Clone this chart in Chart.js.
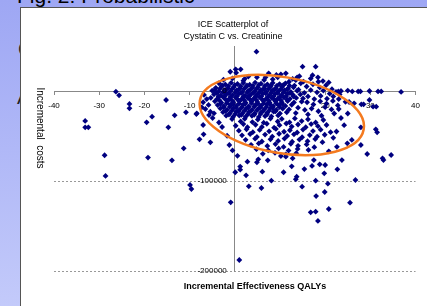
<!DOCTYPE html>
<html>
<head>
<meta charset="utf-8">
<script src="https://cdn.jsdelivr.net/npm/chart.js@4.4.1/dist/chart.umd.min.js"></script>
<style>
  html, body { margin: 0; padding: 0; }
  body {
    width: 427px; height: 306px; overflow: hidden; position: relative;
    background: linear-gradient(#9ea7f4, #c3cafa);
    font-family: 'Liberation Sans', Arial, sans-serif;
  }
  #slideTitle { position: absolute; left: 17px; top: -16px; font-size: 21px; color: #000; white-space: nowrap; }
  .peek { position: absolute; font-size: 20px; color: #222; }
  #panel {
    position: absolute; left: 20px; top: 7px; width: 407px; height: 299px;
    background: #fff; border-left: 1px solid #555; border-top: 1px solid #555;
  }
  #chartBox { position: absolute; left: 0; top: 0; width: 406px; height: 298px; }
</style>
</head>
<body>
<div id="slideTitle">Fig. 2: Probabilistic</div>
<div class="peek" style="left:18px; top:38px;">C</div>
<div class="peek" style="left:17px; top:86px;">A</div>
<div id="panel">
  <div id="chartBox"><canvas id="iceChart"></canvas></div>
</div>
<script>
const xTicks = [-40, -30, -20, -10, 0, 10, 20, 30, 40];
const yTicks = [-200000, -100000, 0];
const chartTitle = ['ICE Scatterplot of', 'Cystatin C vs. Creatinine'];
const xTitle = 'Incremental Effectiveness QALYs';
const yTitle = 'Incremental  costs';

// simulations as [QALYs, costs]
const leftTail = [
  [-26.3, -0.8e3], [-25.6, -4.8e3], [-23.3, -14.4e3], [-23.3, -19.3e3], [-33.1, -33.3e3],
  [-33.1, -40.4e3], [-32.4, -40.4e3], [-28.8, -71.4e3], [-28.6, -94.4e3], [-19.5, -34.8e3],
  [-18.3, -28.5e3], [-15.2, -10e3], [-14.7, -40.4e3], [-13.3, -27e3], [-10.8, -23.7e3],
  [-19.2, -74e3], [-13.9, -77e3], [-11.3, -63.7e3], [-9.9, -104.4e3], [-9.6, -108.9e3]
];

const leftLobe = [
  [-6.8, -4.4e3], [-6.2, -9e3], [-7.0, -12.5e3], [-5.8, -15.5e3], [-6.5, -20e3],
  [-7.3, -18.1e3], [-5.4, -23e3], [-4.6, -24.8e3], [-8.4, -24.8e3], [-5.7, -26.7e3],
  [-8.5, -25.6e3], [-4.9, -30e3], [-3.5, -35e3], [-2.8, -40e3], [-7.0, -37.8e3],
  [-7.8, -53.7e3], [-6.9, -48.1e3], [-5.4, -57e3], [-1.7, -49.7e3], [-1.2, -60e3],
  [-0.5, -66e3], [0.6, -72e3], [-4.4, 1.5e3], [-2.5, -1e3]
];

const aboveAxis = [
  [-1.0, 21.4e3], [0.2, 24.1e3], [0.3, 20.3e3], [1.3, 24.1e3], [4.8, 43.7e3],
  [7.5, 19.6e3], [10.2, 18.5e3], [11.3, 19.6e3], [4.9, 15.2e3], [6.5, 12.2e3],
  [8.4, 13e3], [9.5, 15.2e3], [15.0, 27e3], [17.9, 27e3], [18.4, 15.2e3],
  [18.5, 10.3e3], [13.8, 15.2e3], [12.0, 10.3e3], [-2.5, 12.5e3], [-0.5, 14e3],
  [1.9, 11.4e3], [3.0, 16e3], [2.2, 13.5e3], [6.8, 15.2e3], [9.2, 17.8e3],
  [13.5, 12e3], [15.2, 10.5e3], [16.8, 13.8e3], [19.5, 11e3], [14.3, 16.5e3],
  [17.2, 17.5e3], [20.8, 9.5e3], [12.8, 13.5e3]
];

const denseCore = [
  [-3.5, 8.6e3], [-2.1, 7.2e3], [-0.8, 9.1e3], [0.6, 7.8e3], [1.9, 8.9e3], [3.3, 7.0e3],
  [4.5, 9.4e3], [5.8, 8.1e3], [7.2, 7.4e3], [8.4, 9.0e3], [9.9, 7.7e3], [11.2, 8.5e3],
  [-2.8, 6.3e3], [-1.4, 5.6e3], [0.0, 6.6e3], [1.3, 5.4e3], [2.7, 6.1e3], [4.0, 5.7e3],
  [5.3, 6.8e3], [6.6, 5.5e3], [8.0, 6.2e3], [9.3, 5.8e3], [10.7, 6.5e3], [12.1, 5.9e3],
  [-4.2, 3.5e3], [-2.9, 4.8e3], [-1.5, 3.1e3], [-0.2, 4.4e3], [1.2, 2.9e3], [2.6, 4.9e3],
  [3.9, 3.6e3], [5.1, 4.2e3], [6.6, 2.8e3], [7.9, 4.6e3], [9.1, 3.3e3], [10.5, 4.7e3],
  [11.8, 3.0e3], [13.0, 4.1e3],
  [-3.3, 2.4e3], [-1.9, 1.6e3], [-0.6, 2.2e3], [0.8, 1.4e3], [2.1, 2.6e3], [3.5, 1.8e3],
  [4.8, 2.3e3], [6.1, 1.5e3], [7.5, 2.5e3], [8.8, 1.7e3], [10.2, 2.1e3], [11.6, 1.9e3],
  [-5.0, 0.4e3], [-3.6, -0.8e3], [-2.3, 0.9e3], [-1.0, -0.5e3], [0.4, 0.7e3], [1.7, -1.1e3],
  [3.0, 0.2e3], [4.4, -0.6e3], [5.7, 1.0e3], [7.0, -0.9e3], [8.3, 0.5e3], [9.6, -0.3e3],
  [11.0, 0.8e3], [12.4, -1.0e3], [13.8, 0.3e3],
  [-4.0, -2.2e3], [-2.6, -1.6e3], [-1.3, -2.5e3], [0.1, -1.8e3], [1.4, -2.4e3], [2.8, -1.5e3],
  [4.1, -2.1e3], [5.4, -1.7e3], [6.8, -2.6e3], [8.1, -1.9e3], [9.5, -2.3e3], [10.8, -1.6e3],
  [12.2, -2.2e3],
  [-4.6, -3.6e3], [-3.1, -4.9e3], [-1.8, -3.2e3], [-0.5, -4.5e3], [0.9, -3.0e3], [2.3, -5.0e3],
  [3.6, -3.7e3], [4.9, -4.3e3], [6.2, -2.9e3], [7.6, -4.8e3], [8.9, -3.4e3], [10.3, -4.6e3],
  [11.6, -3.1e3], [12.9, -4.4e3], [14.5, -3.8e3],
  [-3.6, -6.2e3], [-2.2, -5.6e3], [-0.9, -6.5e3], [0.5, -5.8e3], [1.9, -6.4e3], [3.2, -5.5e3],
  [4.6, -6.1e3], [5.9, -5.7e3], [7.3, -6.6e3], [8.6, -5.9e3], [10.0, -6.3e3], [11.4, -5.6e3],
  [13.0, -6.0e3],
  [-5.3, -7.6e3], [-3.9, -8.8e3], [-2.5, -7.1e3], [-1.2, -8.5e3], [0.2, -7.3e3], [1.5, -9.0e3],
  [2.9, -7.8e3], [4.2, -8.4e3], [5.5, -6.9e3], [6.9, -8.9e3], [8.2, -7.5e3], [9.5, -8.6e3],
  [10.9, -7.2e3], [12.2, -8.7e3], [13.6, -7.7e3], [15.1, -8.3e3],
  [-3.4, -10.2e3], [-2.0, -9.6e3], [-0.6, -10.5e3], [0.7, -9.8e3], [2.1, -10.4e3], [3.4, -9.5e3],
  [4.8, -10.1e3], [6.1, -9.7e3], [7.5, -10.6e3], [8.8, -9.9e3], [10.2, -10.3e3], [11.6, -9.6e3],
  [-4.4, -11.5e3], [-3.0, -12.8e3], [-1.6, -11.1e3], [-0.3, -12.6e3], [1.0, -11.4e3], [2.4, -13.0e3],
  [3.7, -11.7e3], [5.0, -12.3e3], [6.4, -10.9e3], [7.7, -12.9e3], [9.0, -11.6e3], [10.4, -12.5e3],
  [11.7, -11.2e3], [13.1, -12.7e3], [14.8, -11.9e3],
  [-3.1, -14.2e3], [-1.8, -13.6e3], [-0.4, -14.5e3], [1.0, -13.8e3], [2.3, -14.4e3], [3.7, -13.5e3],
  [5.1, -14.1e3], [6.4, -13.7e3], [7.8, -14.6e3], [9.2, -13.9e3], [10.5, -14.3e3],
  [-3.8, -15.6e3], [-2.4, -16.9e3], [-1.0, -15.2e3], [0.4, -16.5e3], [1.8, -15.4e3], [3.1, -17.0e3],
  [4.5, -15.8e3], [5.8, -16.3e3], [7.1, -15.0e3], [8.5, -16.8e3], [9.8, -15.5e3], [11.2, -16.6e3],
  [12.6, -15.3e3],
  [-2.5, -18.2e3], [-1.1, -17.6e3], [0.3, -18.5e3], [1.6, -17.8e3], [3.0, -18.4e3], [4.3, -17.5e3],
  [5.7, -18.1e3], [7.0, -17.7e3], [8.4, -18.6e3], [9.9, -17.9e3],
  [-3.2, -19.4e3], [-1.7, -20.8e3], [-0.3, -19.1e3], [1.1, -20.6e3], [2.5, -19.5e3], [3.8, -21.0e3],
  [5.2, -19.7e3], [6.5, -20.4e3], [7.9, -19.0e3], [9.2, -20.9e3], [10.6, -19.6e3], [12.0, -20.5e3],
  [-2.0, -22.2e3], [-0.6, -21.6e3], [0.8, -22.5e3], [2.2, -21.8e3], [3.5, -22.4e3], [4.9, -21.5e3],
  [6.3, -22.1e3], [7.6, -21.7e3], [9.0, -22.6e3],
  [-2.6, -23.5e3], [-1.1, -24.7e3], [0.3, -23.2e3], [1.7, -24.6e3], [3.1, -23.4e3], [4.4, -25.0e3],
  [5.8, -23.8e3], [7.2, -24.3e3], [8.6, -23.0e3], [10.0, -24.9e3], [11.5, -23.6e3],
  [-1.3, -26.2e3], [0.1, -25.6e3], [1.5, -26.5e3], [2.9, -25.8e3], [4.3, -26.4e3], [5.7, -25.5e3],
  [7.1, -26.1e3],
  [-1.9, -27.4e3], [-0.4, -28.8e3], [1.0, -27.2e3], [2.4, -28.5e3], [3.8, -27.6e3], [5.3, -29.0e3],
  [6.7, -27.8e3], [8.1, -28.3e3], [9.6, -27.1e3]
];

const rightSpread = [
  [13.2, 6e3], [14.6, 8.5e3], [15.9, 5e3], [17.3, 7.5e3], [18.8, 4e3], [20.2, 6.5e3],
  [21.5, 2e3], [14.1, 1.5e3], [15.4, -2e3], [16.8, 1e3], [18.2, -1.5e3], [19.6, 0.5e3],
  [21.0, -3e3], [22.4, -1e3], [16.2, -6e3], [17.6, -9e3], [19.0, -5.5e3], [20.4, -8.5e3],
  [21.8, -6e3], [23.2, -4e3], [16.0, -12.5e3], [17.4, -15e3], [18.9, -11.5e3], [20.3, -14e3],
  [21.7, -11e3], [23.0, -9e3], [14.0, -18.5e3], [15.5, -21e3], [17.0, -19.5e3], [18.5, -22.5e3],
  [20.0, -18e3], [21.4, -20.5e3], [22.8, -16e3], [24.5, -12e3], [13.5, -24.5e3], [16.2, -26e3],
  [19.2, -27.5e3], [22.0, -25e3],
  [22.9, -0.5e3], [23.5, 0], [25.0, 0.5e3], [26.0, -0.5e3], [27.3, -0.5e3], [27.8, -0.5e3],
  [29.8, 0], [31.7, -0.5e3], [32.4, -0.5e3], [36.8, -1e3],
  [25.3, -12.2e3], [26.4, -13.7e3], [28.0, -14.8e3], [28.5, -14.8e3], [30.6, -17.4e3], [31.3, -17.4e3],
  [29.8, -10e3], [31.2, -42.6e3], [31.5, -45.9e3], [27.9, -40.4e3], [27.9, -60e3], [25.9, -54.4e3],
  [24.9, -58.1e3], [23.5, -30e3], [24.2, -38e3], [22.5, -45e3], [23.0, -20e3], [25.0, -25e3],
  [21.8, -52e3], [22.6, -62e3], [20.8, -67e3]
];

const lowerSpread = [
  [-0.6, -31.2e3], [1.3, -33.8e3], [2.2, -30.9e3], [3.9, -34.5e3], [5.1, -31.7e3], [6.4, -35.2e3],
  [7.9, -30.6e3], [9.5, -33.9e3], [10.4, -31.0e3], [12.1, -34.8e3], [13.3, -30.5e3], [14.8, -33.4e3],
  [16.2, -31.5e3], [17.9, -35.0e3], [19.6, -32.2e3],
  [0.2, -38.6e3], [1.9, -36.8e3], [2.8, -40.2e3], [4.6, -37.5e3], [6.0, -39.9e3], [7.1, -36.4e3],
  [8.7, -40.8e3], [9.9, -38.0e3], [11.4, -36.1e3], [12.6, -39.5e3], [14.0, -37.2e3], [15.7, -40.3e3],
  [16.9, -36.7e3], [18.4, -39.1e3], [20.3, -37.8e3],
  [0.9, -44.1e3], [2.6, -42.5e3], [4.0, -45.7e3], [5.5, -43.2e3], [7.6, -44.8e3], [9.1, -42.1e3],
  [10.9, -45.3e3], [12.2, -43.6e3], [13.8, -46.1e3], [15.1, -42.9e3], [17.3, -44.5e3], [19.0, -43.0e3],
  [21.2, -45.8e3],
  [1.6, -49.2e3], [3.4, -47.8e3], [4.9, -51.0e3], [6.7, -48.4e3], [8.3, -50.6e3], [9.8, -47.5e3],
  [11.6, -49.9e3], [13.1, -48.1e3], [14.9, -51.4e3], [16.6, -49.0e3], [18.2, -50.8e3], [19.9, -48.6e3],
  [2.4, -54.3e3], [4.5, -53.0e3], [6.0, -56.1e3], [7.9, -53.7e3], [9.6, -55.5e3], [11.0, -52.9e3],
  [12.7, -56.4e3], [14.3, -54.0e3], [16.1, -55.8e3], [17.8, -53.4e3], [19.4, -56.9e3],
  [3.6, -59.8e3], [5.3, -58.2e3], [7.2, -61.0e3], [9.0, -59.0e3], [10.8, -62.1e3], [12.4, -58.7e3],
  [14.0, -60.9e3], [15.9, -59.4e3], [17.6, -62.4e3],
  [4.8, -64.6e3], [7.4, -65.9e3], [9.7, -63.8e3], [11.9, -66.2e3], [13.9, -64.4e3], [16.3, -65.5e3],
  [6.2, -69.8e3], [8.9, -68.7e3], [11.3, -70.4e3], [13.6, -69.1e3]
];

const farLow = [
  [2.8, -78.5e3], [5.2, -75.9e3], [7.3, -77e3], [1.2, -84e3], [10.2, -72.2e3], [11.3, -73e3],
  [12.8, -74.8e3], [-0.9, -123.7e3], [0.1, -90.3e3], [1.2, -87.4e3], [1.0, -187.8e3], [2.5, -93.7e3],
  [3.1, -105.9e3], [4.9, -79.3e3], [6.1, -89.6e3], [5.9, -107.8e3], [8.1, -99.6e3], [10.8, -90.3e3],
  [12.6, -83.7e3], [13.5, -98.1e3], [13.7, -95.2e3], [14.9, -106.3e3], [15.4, -86.7e3], [17.1, -83.3e3],
  [17.5, -76.7e3], [18.8, -81.5e3], [17.9, -99.6e3], [18.0, -116.7e3], [19.8, -91.5e3], [19.9, -112.2e3],
  [20.6, -103e3], [16.8, -134.8e3], [17.9, -134.1e3], [18.4, -144.4e3], [20.8, -131.1e3], [22.7, -87e3],
  [23.7, -76.7e3], [25.5, -124.1e3], [26.7, -98.9e3], [32.9, -76.7e3], [29.3, -70e3], [32.7, -74.8e3],
  [34.6, -71.1e3], [20.0, -82.2e3]
];

// orange highlight ring: centre and half-axes in data units, tilt in degrees
const ring = { x: 10.4, y: -26.7e3, rx: 18.4, ry: 42.2e3, tilt: 10 };

const allPoints = [...leftTail, ...leftLobe, ...aboveAxis, ...denseCore, ...rightSpread, ...lowerSpread, ...farLow]
  .map(p => ({ x: p[0], y: p[1] }));

const overlay = {
  id: 'overlay',
  afterDatasetsDraw(chart) {
    const { ctx, scales: { x, y } } = chart;
    const cx = x.getPixelForValue(ring.x);
    const cy = y.getPixelForValue(ring.y);
    const rx = Math.abs(x.getPixelForValue(ring.x + ring.rx) - cx);
    const ry = Math.abs(y.getPixelForValue(ring.y + ring.ry) - cy);
    ctx.save();
    ctx.strokeStyle = '#f47a1f';
    ctx.lineWidth = 2.5;
    ctx.beginPath();
    ctx.ellipse(cx, cy, rx, ry, ring.tilt * Math.PI / 180, 0, Math.PI * 2);
    ctx.stroke();
    ctx.restore();
  },
  afterDraw(chart) {
    const { ctx, scales: { x, y } } = chart;
    ctx.save();
    ctx.fillStyle = '#000';
    ctx.textBaseline = 'middle';

    // y tick labels sit left of the crossing axis
    ctx.textAlign = 'right';
    ctx.font = '8px "Liberation Sans", Arial, sans-serif';
    const axisX = x.getPixelForValue(0);
    yTicks.forEach(v => ctx.fillText(String(v), axisX - 8, y.getPixelForValue(v)));

    ctx.textAlign = 'center';
    ctx.font = '9px "Liberation Sans", Arial, sans-serif';
    ctx.fillText(chartTitle[0], 212, 17);
    ctx.fillText(chartTitle[1], 212, 29);
    ctx.font = 'bold 9px "Liberation Sans", Arial, sans-serif';
    ctx.fillText(xTitle, 234, 279);
    ctx.font = '10px "Liberation Sans", Arial, sans-serif';
    ctx.translate(19, 120);
    ctx.rotate(Math.PI / 2);
    ctx.fillText(yTitle, 0, 0);
    ctx.restore();
  }
};

new Chart(document.getElementById('iceChart'), {
  type: 'scatter',
  data: {
    datasets: [{
      label: 'ICE',
      data: allPoints,
      backgroundColor: '#000080',
      borderWidth: 0,
      pointStyle: 'rectRot',
      pointRadius: 2.9
    }]
  },
  options: {
    responsive: true,
    maintainAspectRatio: false,
    animation: false,
    layout: { padding: { left: 33, right: 6, top: 38, bottom: 35 } },
    plugins: {
      legend: { display: false },
      tooltip: { enabled: false }
    },
    scales: {
      x: {
        type: 'linear',
        position: { y: 0 },
        min: -40,
        max: 40,
        afterBuildTicks: s => { s.ticks = xTicks.map(v => ({ value: v })); },
        grid: { drawOnChartArea: false, drawTicks: true, tickLength: 3, color: '#888' },
        border: { display: true, color: '#888', width: 1 },
        ticks: { color: '#000', padding: 7, maxRotation: 0, font: { size: 8, family: '"Liberation Sans", Arial' } }
      },
      y: {
        type: 'linear',
        position: { x: 0 },
        min: -200000,
        max: 50000,
        afterBuildTicks: s => { s.ticks = yTicks.map(v => ({ value: v })); },
        grid: {
          drawTicks: false,
          color: c => (c.tick && c.tick.value !== 0 ? '#999' : 'rgba(0,0,0,0)')
        },
        border: { display: true, color: '#888', width: 1, dash: [2, 2] },
        ticks: { display: false }
      }
    }
  },
  plugins: [overlay]
});
</script>
</body>
</html>
